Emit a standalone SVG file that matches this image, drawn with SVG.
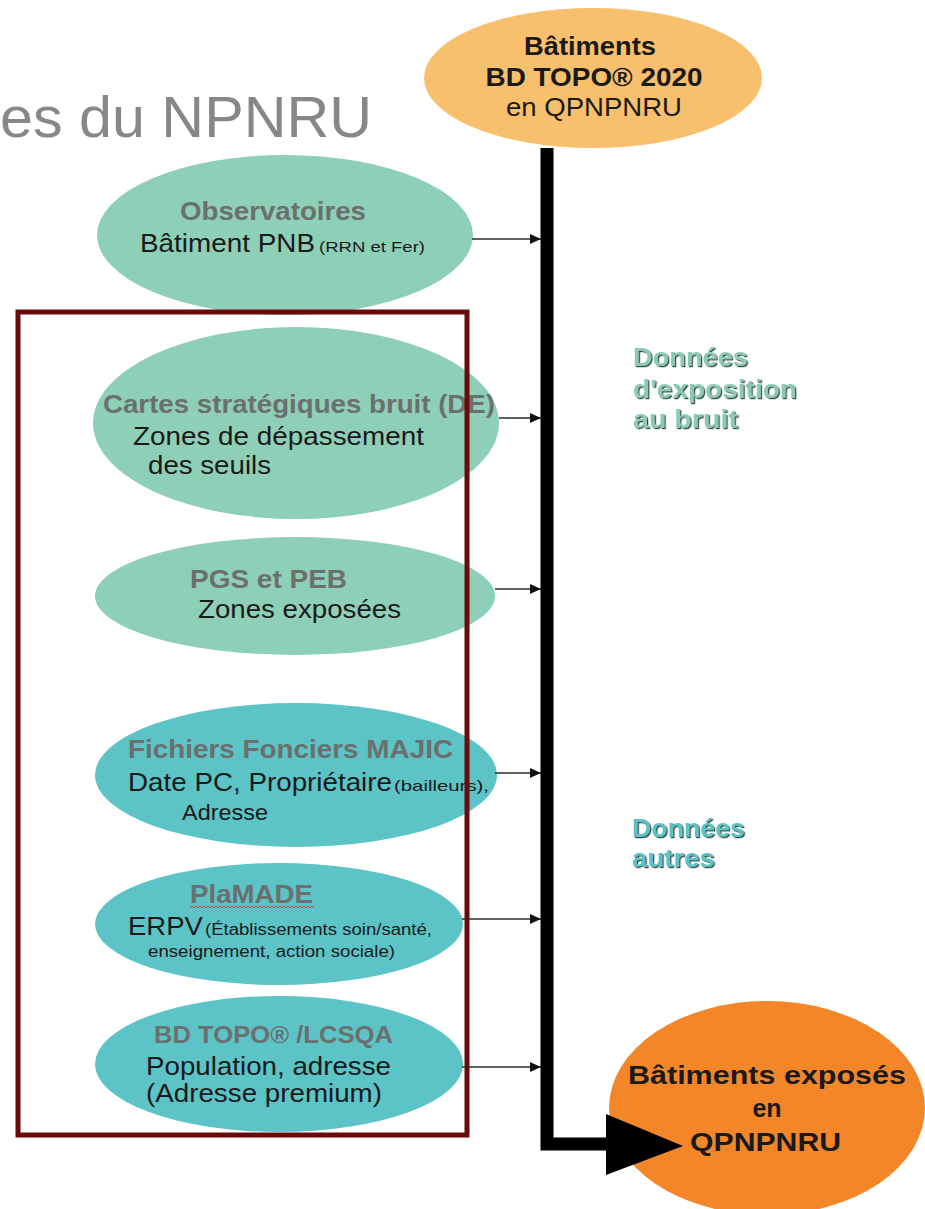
<svg xmlns="http://www.w3.org/2000/svg" width="925" height="1209" viewBox="0 0 925 1209">
<style>
text{font-family:"Liberation Sans",Arial,sans-serif;font-size:25px;fill:#1a1a1a}
.b{font-weight:bold}
.g{fill:#6b6f6e;font-weight:bold}
.s{font-size:15px}
.mint{fill:#8ecfb7}
.cyan{fill:#5cc3c6}
.lbl{font-weight:bold;font-size:26px;filter:url(#emb)}
.thin{stroke:#2a2a2a;stroke-width:1.6;fill:none;marker-end:url(#ah)}
</style>
<defs>
<marker id="ah" markerWidth="11" markerHeight="10" refX="11" refY="5" orient="auto" markerUnits="userSpaceOnUse">
<path d="M0,0 L11,5 L0,10 Z" fill="#111"/>
</marker>
<filter id="emb" x="-5%" y="-20%" width="110%" height="140%">
<feDropShadow dx="1.2" dy="1.2" stdDeviation="0.5" flood-color="#2e4740"/>
</filter>
</defs>

<text x="0" y="137" style="font-size:58px;fill:#878787" textLength="372" lengthAdjust="spacingAndGlyphs">es du NPNRU</text>

<g id="bdtopo2020">
<ellipse cx="593" cy="78" rx="169" ry="70" fill="#f8bf6c"/>
<text class="b" x="590" y="55" text-anchor="middle" textLength="132" lengthAdjust="spacingAndGlyphs">Bâtiments</text>
<text class="b" x="594" y="86" text-anchor="middle" textLength="217" lengthAdjust="spacingAndGlyphs">BD TOPO® 2020</text>
<text x="594" y="116" text-anchor="middle" textLength="176" lengthAdjust="spacingAndGlyphs">en QPNPNRU</text>
</g>

<g id="observatoires">
<ellipse class="mint" cx="285" cy="235" rx="188" ry="80"/>
<text class="g" x="273" y="220" text-anchor="middle" textLength="186" lengthAdjust="spacingAndGlyphs">Observatoires</text>
<text y="252"><tspan x="140" textLength="175" lengthAdjust="spacingAndGlyphs">Bâtiment PNB</tspan><tspan x="319" class="s" textLength="106" lengthAdjust="spacingAndGlyphs">(RRN et Fer)</tspan></text>
</g>

<g id="cartes">
<ellipse class="mint" cx="296" cy="423" rx="203" ry="96"/>
<text class="g" x="299" y="413" text-anchor="middle" textLength="392" lengthAdjust="spacingAndGlyphs">Cartes stratégiques bruit (DE)</text>
<text x="133" y="445" textLength="291" lengthAdjust="spacingAndGlyphs">Zones de dépassement</text>
<text x="148" y="474" textLength="123" lengthAdjust="spacingAndGlyphs">des seuils</text>
</g>

<g id="pgs">
<ellipse class="mint" cx="295" cy="596" rx="200" ry="59"/>
<text class="g" x="190" y="588" textLength="157" lengthAdjust="spacingAndGlyphs">PGS et PEB</text>
<text x="198" y="618" textLength="203" lengthAdjust="spacingAndGlyphs">Zones exposées</text>
</g>

<g id="majic">
<ellipse class="cyan" cx="296" cy="775" rx="201" ry="72"/>
<text class="g" x="128" y="758" textLength="325" lengthAdjust="spacingAndGlyphs">Fichiers Fonciers MAJIC</text>
<text y="791"><tspan x="128" textLength="264" lengthAdjust="spacingAndGlyphs">Date PC, Propriétaire</tspan><tspan x="394" class="s" textLength="95" lengthAdjust="spacingAndGlyphs">(bailleurs),</tspan></text>
<text x="182" y="820" style="font-size:22px" textLength="86" lengthAdjust="spacingAndGlyphs">Adresse</text>
</g>

<g id="plamade">
<ellipse class="cyan" cx="279" cy="924" rx="184" ry="61"/>
<text class="g" x="190" y="903" textLength="123" lengthAdjust="spacingAndGlyphs">PlaMADE</text>
<path d="M190,908 l2,-2 l2,2 l2,-2 l2,2 l2,-2 l2,2 l2,-2 l2,2 l2,-2 l2,2 l2,-2 l2,2 l2,-2 l2,2 l2,-2 l2,2 l2,-2 l2,2 l2,-2 l2,2 l2,-2 l2,2 l2,-2 l2,2 l2,-2 l2,2 l2,-2 l2,2 l2,-2 l2,2 l2,-2 l2,2 l2,-2 l2,2 l2,-2 l2,2 l2,-2 l2,2 l2,-2 l2,2 l2,-2 l2,2 l2,-2 l2,2 l2,-2 l2,2 l2,-2 l2,2 l2,-2 l2,2 l2,-2 l2,2 l2,-2 l2,2 l2,-2 l2,2 l2,-2 l2,2 l2,-2 l2,2 l2,-2 l2,2" stroke="#d93a3a" stroke-width="1" fill="none"/>
<text y="935"><tspan x="128" textLength="75" lengthAdjust="spacingAndGlyphs">ERPV</tspan><tspan x="205" style="font-size:16px" textLength="227" lengthAdjust="spacingAndGlyphs">(Établissements soin/santé,</tspan></text>
<text x="148" y="957" style="font-size:16px" textLength="247" lengthAdjust="spacingAndGlyphs">enseignement, action sociale)</text>
</g>

<g id="lcsqa">
<ellipse class="cyan" cx="279" cy="1064" rx="184" ry="68"/>
<text class="g" x="154" y="1043" style="font-size:24px" textLength="239" lengthAdjust="spacingAndGlyphs">BD TOPO® /LCSQA</text>
<text x="146" y="1075" textLength="245" lengthAdjust="spacingAndGlyphs">Population, adresse</text>
<text x="146" y="1102" textLength="236" lengthAdjust="spacingAndGlyphs">(Adresse premium)</text>
</g>

<g id="exposes">
<ellipse cx="767" cy="1108" rx="158" ry="107" fill="#f4862a"/>
<text class="b" x="628" y="1084" textLength="278" lengthAdjust="spacingAndGlyphs">Bâtiments exposés</text>
<text class="b" x="767" y="1117" text-anchor="middle">en</text>
<text class="b" x="690" y="1151" textLength="151" lengthAdjust="spacingAndGlyphs">QPNPNRU</text>
</g>

<g id="frame">
<rect x="18" y="312" width="449" height="823" fill="none" stroke="#6a0a0a" stroke-width="5"/>
</g>

<g id="label-bruit">
<text class="lbl" style="fill:#8ccab3" x="633" y="366" textLength="115" lengthAdjust="spacingAndGlyphs">Données</text>
<text class="lbl" style="fill:#8ccab3" x="633" y="398" textLength="164" lengthAdjust="spacingAndGlyphs">d'exposition</text>
<text class="lbl" style="fill:#8ccab3" x="633" y="428" textLength="105" lengthAdjust="spacingAndGlyphs">au bruit</text>
</g>

<g id="label-autres">
<text class="lbl" style="fill:#5fc1c5" x="632" y="837" textLength="113" lengthAdjust="spacingAndGlyphs">Données</text>
<text class="lbl" style="fill:#5fc1c5" x="632" y="867" textLength="83" lengthAdjust="spacingAndGlyphs">autres</text>
</g>

<g id="connectors">
<path d="M547,148 V1144 H612" stroke="#000" stroke-width="13" fill="none" stroke-linejoin="miter"/>
<polygon points="606,1114 606,1175 683,1146" fill="#000"/>
<line class="thin" x1="472" y1="239" x2="541" y2="239"/>
<line class="thin" x1="499" y1="418" x2="541" y2="418"/>
<line class="thin" x1="495" y1="589" x2="541" y2="589"/>
<line class="thin" x1="495" y1="773" x2="541" y2="773"/>
<line class="thin" x1="462" y1="919" x2="541" y2="919"/>
<line class="thin" x1="462" y1="1067" x2="541" y2="1067"/>
</g>
</svg>
